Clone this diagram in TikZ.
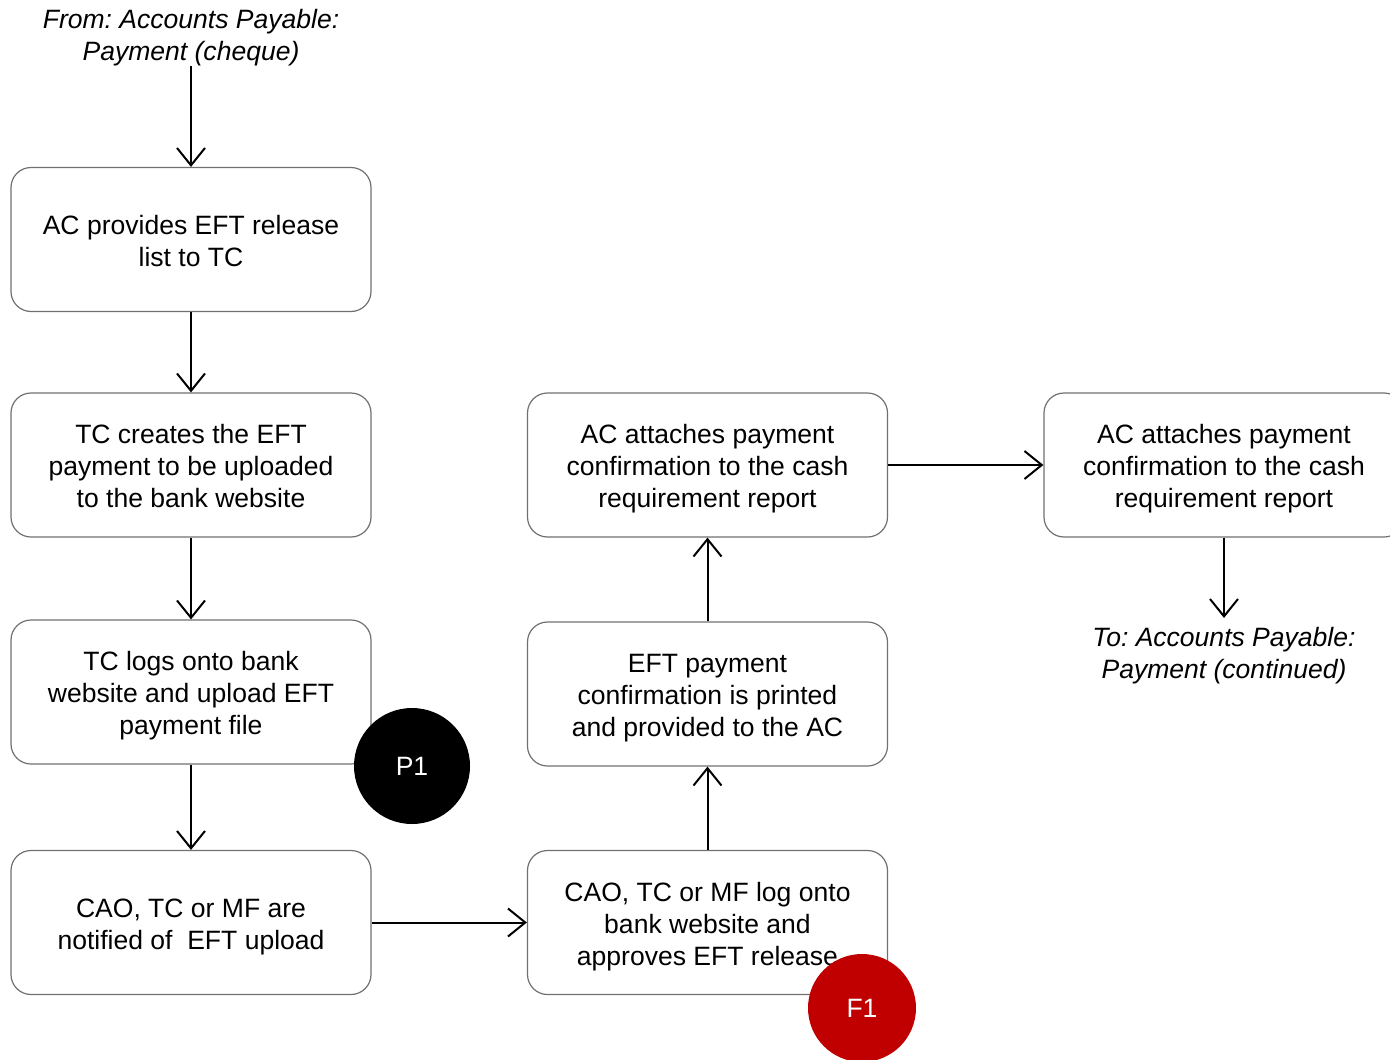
\documentclass[tikz,border=0pt]{standalone}
\usepackage{fontspec}
\setmainfont{Liberation Sans}
\usetikzlibrary{arrows.meta}
\definecolor{boxline}{RGB}{112,112,112}
\definecolor{failred}{RGB}{192,0,0}
% top and bottom struts so that every box centres its lines the same way
\newcommand{\ts}{\rule{0pt}{20.2pt}}
\newcommand{\bs}{\rule[-3.8pt]{0pt}{3.8pt}}
\frenchspacing
\begin{document}
\begin{tikzpicture}[x=0.75pt,y=-0.75pt,
  every node/.style={font=\fontsize{19.9pt}{24pt}\selectfont},
  stepbox/.style={draw=boxline, line width=0.9pt, rounded corners=15pt,
    minimum width=270pt, minimum height=108pt, align=center, inner sep=0pt},
  flow/.style={line width=1.5pt, -{Straight Barb[length=13pt,width=21pt]}},
  note/.style={align=center, inner sep=0pt,
    font=\itshape\fontsize{19.9pt}{24pt}\selectfont},
  marker/.style={circle, inner sep=0pt, text=white}]
\useasboundingbox (0,0) rectangle (1390,1060);
\clip (0,0) rectangle (1390,1060);

% entry and exit notes
\node[note, anchor=north] (src) at (191,9) {From: Accounts Payable:\\Payment (cheque)};
\node[note, anchor=north] (dst) at (1224,627) {To: Accounts Payable:\\Payment (continued)};

% left column
\node[stepbox] (a) at (191,239.5) {\ts AC provides EFT release\\list to TC\bs};
\node[stepbox] (b) at (191,465) {\ts TC creates the EFT\\payment to be uploaded\\to the bank website\bs};
\node[stepbox] (c) at (191,692) {\ts TC logs onto bank\\website and upload EFT\\payment file\bs};
\node[stepbox] (d) at (191,922.5) {\ts CAO, TC or MF are\\notified of\ \ EFT upload\bs};

% middle column
\node[stepbox] (e) at (707.5,922.5) {\ts CAO, TC or MF log onto\\bank website and\\approves EFT release\bs};
\node[stepbox] (f) at (707.5,694) {\ts EFT payment\\confirmation is printed\\and provided to the AC\bs};
\node[stepbox] (g) at (707.5,465) {\ts AC attaches payment\\confirmation to the cash\\requirement report\bs};

% right column
\node[stepbox] (h) at (1224,465) {\ts AC attaches payment\\confirmation to the cash\\requirement report\bs};

% control markers
\node[marker, fill=black, minimum size=87pt] (p1) at (412,766) {P1};
\node[marker, fill=failred, minimum size=81pt] (f1) at (862,1008) {F1};

% flow
\draw[flow] (src.south) -- (a.north);
\draw[flow] (a) -- (b);
\draw[flow] (b) -- (c);
\draw[flow] (c) -- (d);
\draw[flow] (d) -- (e);
\draw[flow] (e) -- (f);
\draw[flow] (f) -- (g);
\draw[flow] (g) -- (h);
\draw[flow] (h.south) -- ([yshift=6.8pt]dst.north);
\end{tikzpicture}
\end{document}
